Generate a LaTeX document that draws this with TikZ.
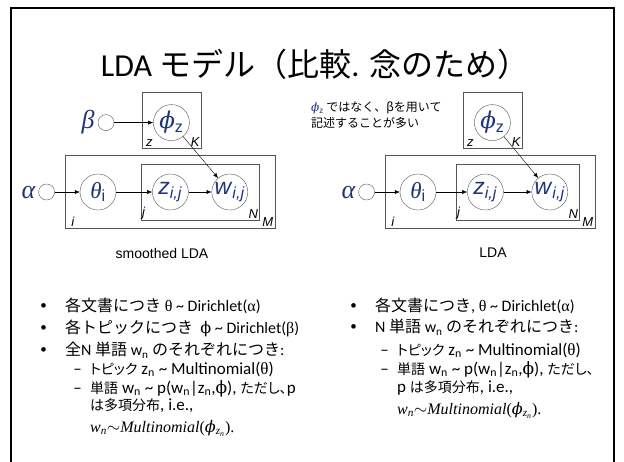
\documentclass[tikz,border=0pt]{standalone}
\usepackage{fontspec}
\usepackage{tikz}
\setmainfont{Carlito}
\setsansfont{Liberation Sans}
\newfontfamily\jpfont{Noto Sans CJK JP}
\newfontfamily\jpnarrow{Noto Sans CJK JP}[RawFeature=+palt]
\newfontfamily\gkfont{Liberation Serif}
\newfontfamily\phifont{DejaVu Serif}
\newcommand*{\jp}[1]{{\jpfont #1}}
\newcommand*{\jps}[1]{{\jpnarrow\fontsize{14}{14}\selectfont #1}}
\newcommand*{\gk}[1]{{\gkfont #1}}
\newcommand*{\gkit}[1]{{\gkfont\itshape #1}}
\newcommand*{\phis}{{\phifont ϕ}}
\newcommand*{\phiit}{{\phifont\itshape ϕ}}
\newcommand*{\tld}{\textasciitilde}
\newcommand*{\subn}{\textsubscript{n}}
\newcommand*{\wmulti}{\gkit{w\textsubscript{n}}$\sim$\gkit{Multinomial}\gk{(}\phiit\gkit{\textsubscript{z\textsubscript{n}}}\gk{).}}
\usetikzlibrary{arrows.meta, positioning, fit}
\definecolor{navy}{RGB}{31,52,120}
\definecolor{rim}{RGB}{85,85,85}
\tikzstyle{var} = [circle, draw=rim, minimum size=36pt, inner sep=0pt, text=navy, font=\fontsize{23}{23}\selectfont]
\tikzstyle{hyper} = [circle, draw=rim, minimum size=16pt, inner sep=0pt]
\tikzstyle{hyperlabel} = [text=navy, font=\gkfont\itshape\fontsize{26}{26}\selectfont, inner sep=1pt]
\tikzstyle{plate} = [draw=rim, rectangle]
\tikzstyle{platelabel} = [font=\sffamily\itshape\fontsize{13}{13}\selectfont, inner sep=1.5pt]
\tikzstyle{link} = [-{Latex[length=5pt, width=4pt]}, thin]
\tikzstyle{caption} = [font=\sffamily\fontsize{14}{14}\selectfont]
\tikzstyle{itemtext} = [anchor=west, inner sep=0pt, text height=12pt, text depth=3pt, font=\fontsize{16}{16}\selectfont]
\tikzstyle{subtext} = [anchor=west, inner sep=0pt, text height=11.5pt, text depth=3pt, font=\fontsize{17}{17}\selectfont]
\tikzstyle{mathtext} = [subtext, font=\fontsize{16}{16}\selectfont]
\tikzstyle{bulletsym} = [inner sep=0pt, font=\fontsize{13}{13}\selectfont]

\begin{document}
\begin{tikzpicture}[x=1pt, y=-1pt, node distance=25pt]
    \useasboundingbox (0,0) rectangle (624,461);
    \draw [line width=2.5pt] (11,8) rectangle (614,480);

    % Title.
    \node (title) at (315,64) {\fontsize{32}{32}\selectfont LDA \jp{モデル（比較}. \jp{念のため）}};

    % Graphical models.
    \foreach \i/\x/\gz/\gw/\px in {1/98/36/23/1, 2/418/31/28/7} {
        \node (theta\i) [var] at (\x,192) {\gkit{θ}\textsubscript{\sffamily i}};
        \node (z\i) [var, right=\gz pt of theta\i] {\textsf{\textit{z}\textsubscript{\textit{i,j}}}};
        \node (w\i) [var, right=\gw pt of z\i] {\textsf{\textit{w}\textsubscript{\textit{i,j}}}};
        \node (phi\i) [var, above=33pt of z\i, xshift=\px pt] {\phiit\textsubscript{\sffamily z}};
        \node (alpha\i) [hyper, left=of theta\i] {};
        \node (alphalab\i) [hyperlabel, left=2pt of alpha\i] {α};

        % Plates.
        \node (nplate\i) [plate, fit=(z\i)(w\i), inner xsep=11.5pt, inner ysep=10pt] {};
        \node (mplate\i) [plate, fit=(theta\i)(nplate\i), inner xsep=15pt, inner ysep=8pt] {};
        \node (kplate\i) [plate, fit=(phi\i), inner xsep=11.5pt, inner ysep=9.5pt, yshift=2.5pt] {};

        \node (zlab\i) [platelabel, anchor=south west, xshift=3pt] at (kplate\i.south west) {z};
        \node (klab\i) [platelabel, anchor=south east] at (kplate\i.south east) {K};
        \node (jlab\i) [platelabel, anchor=south west] at (nplate\i.south west) {j};
        \node (nlab\i) [platelabel, anchor=south east] at (nplate\i.south east) {N};
        \node (ilab\i) [platelabel, anchor=south west, xshift=5pt] at (mplate\i.south west) {i};
        \node (mlab\i) [platelabel, anchor=south east] at (mplate\i.south east) {M};

        % Arrows.
        \draw [link] (alpha\i) -- (theta\i);
        \draw [link] (theta\i) -- (z\i);
        \draw [link] (z\i) -- (w\i);
        \draw [link] (phi\i) -- (w\i);
    }

    \node (beta1) [hyper, left=39pt of phi1] {};
    \node (betalab1) [hyperlabel, left=2pt of beta1] {β};
    \draw [link] (beta1) -- (phi1);

    \node (cap1) [caption] at (162,253) {smoothed LDA};
    \node (cap2) [caption] at (493,253) {LDA};
    \node (note) [anchor=west, align=left, inner sep=0pt, font=\jpfont\fontsize{12}{16}\selectfont] at (311,115)
        {\textcolor{navy}{\phiit\textsubscript{z}} ではなく、βを用いて\\記述することが多い};

    % Left list.
    \node (l1) [itemtext] at (65,307) {\jp{各文書につき} \gk{θ} \tld{} Dirichlet(\gk{α})};
    \node (l2) [itemtext] at (65,329) {\jp{各トピックにつき}\ \ \phis{} \tld{} Dirichlet(\gk{β})};
    \node (l3) [itemtext] at (65,351) {\jp{全}N \jp{単語} w\subn{} \jp{のそれぞれにつき}:};
    \node (l4) [subtext] at (90,370) {\jps{トピック} z\subn{} \tld{} Multinomial(\gk{θ})};
    \node (l5) [subtext] at (90,389) {\jps{単語} w\subn{} \tld{} p(w\subn|z\subn,\phis),\ \jps{ただし、}p};
    \node (l6) [subtext] at (90,406) {\jps{は多項分布}, i.e.,};
    \node (l7) [mathtext] at (90,428) {\wmulti};

    % Right list.
    \node (r1) [itemtext] at (375,307) {\jp{各文書につき}, \gk{θ} \tld{} Dirichlet(\gk{α})};
    \node (r2) [itemtext] at (375,328) {N \jp{単語} w\subn{} \jp{のそれぞれにつき}:};
    \node (r3) [subtext] at (397,351) {\jps{トピック} z\subn{} \tld{} Multinomial(\gk{θ})};
    \node (r4) [subtext] at (397,370) {\jps{単語} w\subn{} \tld{} p(w\subn|z\subn,\phis),\ \jps{ただし、}};
    \node (r5) [subtext] at (397,388) {p \jps{は多項分布}, i.e.,};
    \node (r6) [mathtext] at (397,410) {\wmulti};

    % Bullets and dashes.
    \foreach \n in {l1, l2, l3, r1, r2} {
        \node (bul\n) [bulletsym, left=18pt of \n.west] {\textbullet};
    }
    \foreach \n in {l4, l5, r3, r4} {
        \node (dash\n) [subtext, anchor=center, left=8pt of \n.west] {–};
    }
\end{tikzpicture}
\end{document}
